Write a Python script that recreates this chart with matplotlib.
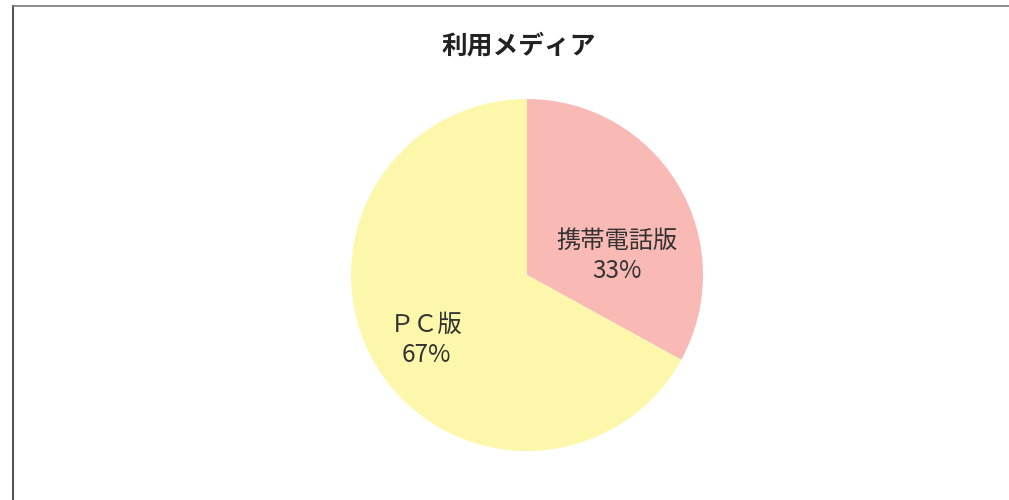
import matplotlib.pyplot as plt
from matplotlib.lines import Line2D

plt.rcParams['font.family'] = ['Noto Sans CJK JP', 'DejaVu Sans']

title = '利用メディア'
labels = ['携帯電話版', 'ＰＣ版']
shares = [33, 67]
colors = ['#f9bab5', '#fcf7ab']

W, H = 1009, 500
fig = plt.figure(figsize=(W / 100, H / 100), dpi=100)

# chart frame (runs off the right and bottom edges in the scan)
fig.add_artist(Line2D([13 / W, 13 / W], [0, 1 - 6 / H], color='#555555', lw=1.5))
fig.add_artist(Line2D([13 / W, 1], [1 - 6 / H, 1 - 6 / H], color='#777777', lw=1.2))

fig.text(519 / W, 1 - 46 / H, title, ha='center', va='center',
         fontsize=18.5, fontweight='bold', color='#222222')

cx, cy, r = 527, 275, 176
ax = fig.add_axes([(cx - r) / W, (H - cy - r) / H, 2 * r / W, 2 * r / H])
ax.pie(shares, colors=colors, startangle=90, counterclock=False,
       wedgeprops=dict(linewidth=0))
ax.set_xlim(-1, 1)
ax.set_ylim(-1, 1)
ax.set_aspect('equal')
ax.axis('off')

# label placement inside the slices, as in the original
label_pos = [(0.51, 0.11), (-0.57, -0.37)]
for lab, val, (x, y) in zip(labels, shares, label_pos):
    ax.text(x, y, f'{lab}\n{val}%', ha='center', va='center', fontsize=17.5,
            color='#333333', linespacing=1.2)

fig.savefig('out.png', dpi=100)
